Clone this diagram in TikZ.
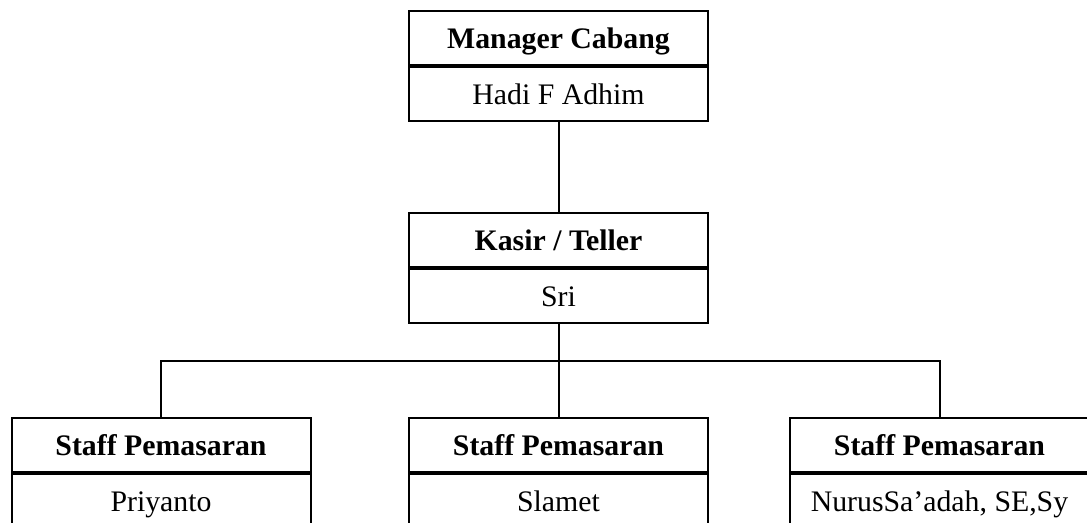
\documentclass[tikz,border=0pt]{standalone}
\usepackage{fontspec}
\setmainfont{Liberation Serif}
\begin{document}
\begin{tikzpicture}[x=0.5pt,y=-0.5pt,
  cell/.style={draw=black,line width=1pt,minimum width=149.5pt,minimum height=27pt,inner sep=0pt,
    text height=13pt,text depth=2.5pt,font=\fontsize{14.9}{18}\selectfont,anchor=north},
  head/.style={cell,font=\fontsize{14.9}{18}\selectfont\bfseries},
  conn/.style={draw=black,line width=1pt}]
\useasboundingbox (0,0) rectangle (1087,523);
\clip (0,0) rectangle (1087,523);
\fill[white] (0,0) rectangle (1087,523);
% top
\node[head] (m1) at (558.5,10) {Manager Cabang};
\node[cell] (m2) at (m1.south) {Hadi F Adhim};
% middle
\node[head] (k1) at (558.5,212) {Kasir / Teller};
\node[cell] (k2) at (k1.south) {Sri};
% bottom
\node[head] (s1) at (161,417) {Staff Pemasaran};
\node[cell] (t1) at (s1.south) {Priyanto};
\node[head] (s2) at (558.5,417) {Staff Pemasaran};
\node[cell] (t2) at (s2.south) {Slamet};
\node[head] (s3) at (939.5,417) {Staff Pemasaran};
\node[cell] (t3) at (s3.south) {NurusSa’adah, SE,Sy};
\coordinate (j) at (558.5,361);
\draw[conn] (m2.south) -- (k1.north);
\draw[conn] (k2.south) -- (j);
\draw[conn] (s1.north) |- (j) -| (s3.north);
\draw[conn] (j) -- (s2.north);
\end{tikzpicture}
\end{document}
